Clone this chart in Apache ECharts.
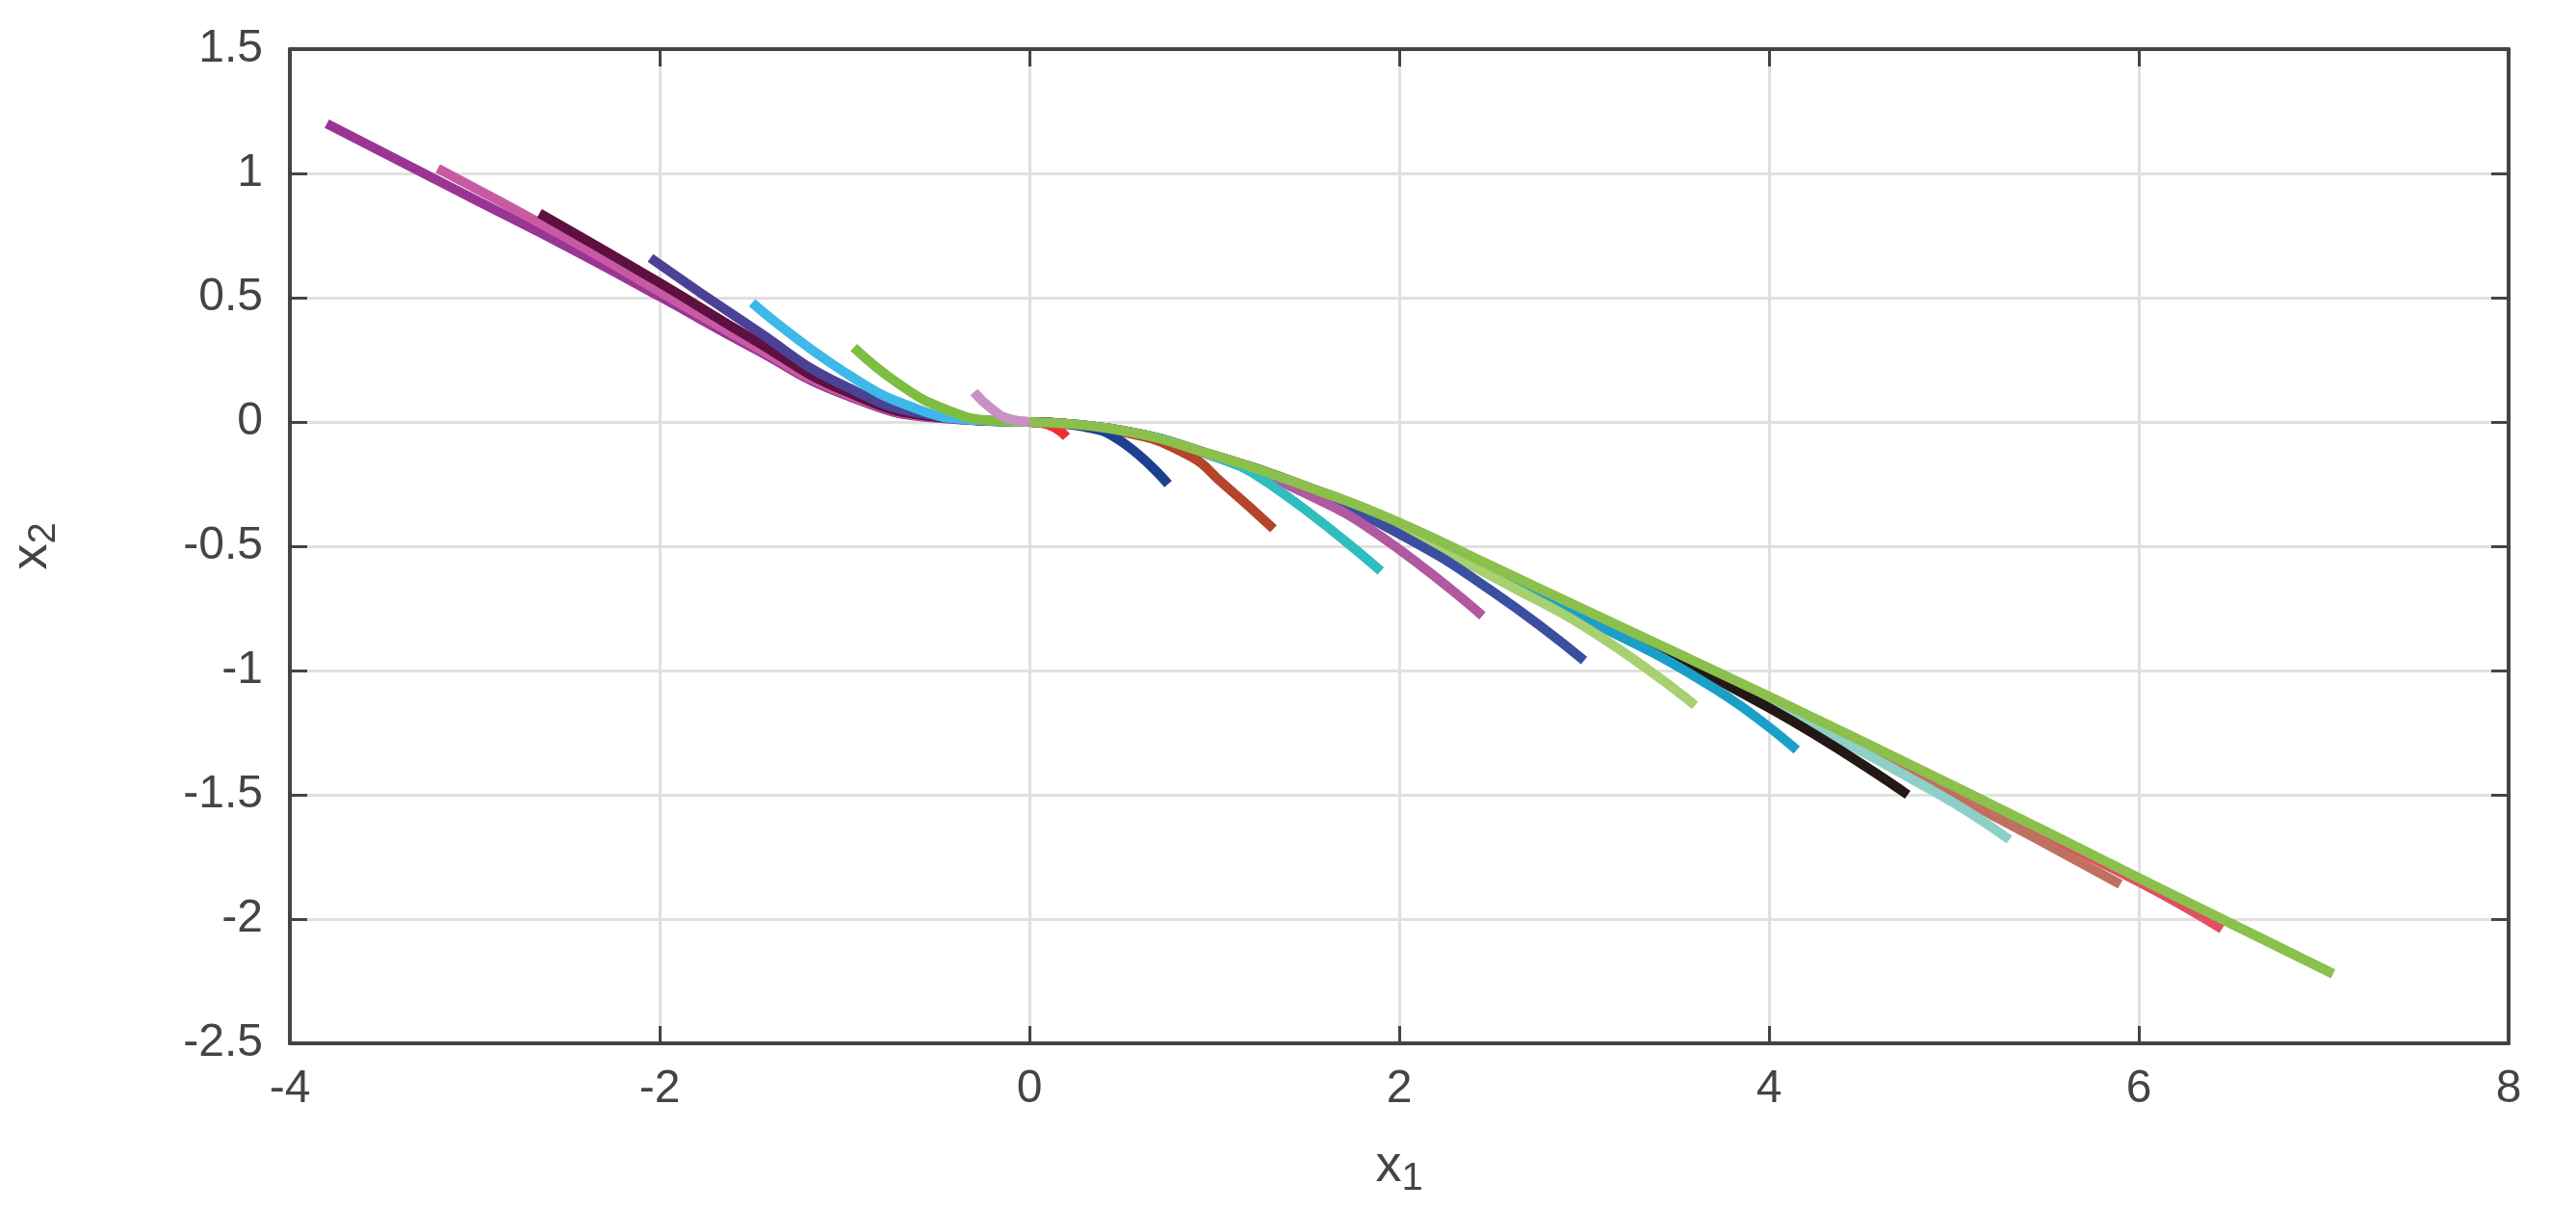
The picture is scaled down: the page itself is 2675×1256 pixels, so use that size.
<!DOCTYPE html>
<html>
<head>
<meta charset="utf-8">
<script src="https://cdn.jsdelivr.net/npm/echarts@6/dist/echarts.min.js"></script>
<style>html,body{margin:0;padding:0;background:#fff}#main{width:2675px;height:1256px}</style>
</head>
<body>
<div id="main"></div>
<script>
// trajectories, [x1, x2]
var trajPurple = [[-3.8,1.2],[-3.0,0.895],[-2.5,0.705],[-2,0.505],[-1.5,0.3],[-1,0.11],[-0.5,0.016],[0,0]];
var trajPink = [[-3.2,1.02],[-2.5,0.74],[-2,0.525],[-1.5,0.31],[-1,0.115],[-0.5,0.018],[0,0]];
var trajMaroon = [[-2.65,0.84],[-2,0.56],[-1.5,0.335],[-1,0.125],[-0.5,0.02],[0,0]];
var trajIndigo = [[-2.05,0.66],[-1.5,0.38],[-1,0.145],[-0.5,0.025],[0,0]];
var trajSky = [[-1.5,0.48],[-1,0.2],[-0.6,0.05],[-0.3,0.008],[0,0]];
var trajGreenL = [[-0.95,0.3],[-0.7,0.15],[-0.45,0.05],[-0.2,0.005],[0,0]];
var trajMauve = [[-0.3,0.12],[-0.2,0.05],[-0.1,0.01],[0,0]];

var trajRed = [[0,0],[0.1,-0.01],[0.2,-0.06]];
var trajNavy = [[0,0],[0.3,-0.02],[0.5,-0.08],[0.75,-0.25]];
var trajRust = [[0,0],[0.5,-0.04],[0.85,-0.13],[1.05,-0.25],[1.32,-0.43]];
var trajTeal = [[0,0],[0.5,-0.035],[1,-0.14],[1.3,-0.25],[1.9,-0.6]];
var trajMagenta = [[0,0],[0.5,-0.035],[1,-0.138],[1.5,-0.29],[1.9,-0.46],[2.45,-0.78]];
var trajBlue = [[0,0],[0.5,-0.035],[1,-0.137],[1.5,-0.275],[2,-0.45],[2.5,-0.68],[3.0,-0.96]];
var trajLime = [[0,0],[0.5,-0.035],[1,-0.136],[1.5,-0.27],[2,-0.435],[2.6,-0.66],[3.1,-0.87],[3.6,-1.14]];
var trajCyan = [[0,0],[0.5,-0.035],[1,-0.135],[1.5,-0.265],[2,-0.425],[3,-0.79],[3.7,-1.07],[4.15,-1.32]];
var trajBlack = [[0,0],[0.5,-0.035],[1,-0.135],[1.5,-0.262],[2,-0.42],[3,-0.775],[4,-1.15],[4.75,-1.5]];
var trajPale = [[0,0],[0.5,-0.035],[1,-0.135],[1.5,-0.261],[2,-0.415],[3,-0.77],[4,-1.135],[4.9,-1.49],[5.3,-1.68]];
var trajBrown = [[0,0],[0.5,-0.035],[1,-0.135],[1.5,-0.26],[2,-0.412],[3,-0.765],[4,-1.12],[5,-1.5],[5.9,-1.86]];
var trajRed2 = [[0,0],[0.5,-0.035],[1,-0.135],[1.5,-0.26],[2,-0.41],[3,-0.762],[4,-1.115],[5,-1.48],[6,-1.85],[6.45,-2.04]];
var trajGreen = [[0,0],[0.5,-0.035],[1,-0.135],[1.5,-0.26],[2,-0.405],[2.5,-0.58],[3,-0.755],[4,-1.105],[5,-1.465],[6,-1.835],[7.05,-2.22]];

var xTicks = [-4, -2, 0, 2, 4, 6, 8];
var yTicks = [-2.5, -2, -1.5, -1, -0.5, 0, 0.5, 1, 1.5];

var curves = [
  [trajPurple, '#9B3593'], [trajPink, '#C85AA4'], [trajMaroon, '#5E1040'],
  [trajIndigo, '#4B4296'], [trajSky, '#3DB8E8'], [trajGreenL, '#7DBE42'],
  [trajMauve, '#C890C4'],
  [trajGreen, '#8CC04C'], [trajRed2, '#E05060'], [trajBrown, '#C07060'],
  [trajPale, '#8ED0C8'], [trajBlack, '#231815'], [trajCyan, '#1AA0C8'],
  [trajLime, '#A8D070'], [trajBlue, '#3A4FA0'], [trajMagenta, '#B058A0'],
  [trajTeal, '#2FBDBD'], [trajRust, '#B5452A'], [trajNavy, '#1E3F8F'],
  [trajRed, '#EE3035'], [trajGreen, '#8CC04C']
];

var myChart = echarts.init(document.getElementById('main'));
var font = 'Liberation Sans, Arial, sans-serif';
var axisLine = { show: true, onZero: false, lineStyle: { color: '#444', width: 4 } };
var tick = { show: true, inside: true, length: 18, lineStyle: { color: '#444', width: 3 } };

function fmt(v) { return String(v); }

option = {
  animation: false,
  grid: { left: 301, right: 70, top: 51, bottom: 173, outerBoundsMode: 'none', containLabel: false },
  xAxis: [{
    type: 'value', min: -4, max: 8, interval: 2,
    axisLine: axisLine, axisTick: tick,
    axisLabel: { color: '#444', fontSize: 48, fontFamily: font, margin: 24, formatter: fmt },
    splitLine: { show: true, lineStyle: { color: '#e0e0e0', width: 3 } },
    name: '{a|x}{b|1}', nameLocation: 'middle', nameGap: 95,
    nameTextStyle: { rich: { a: { fontSize: 54, color: '#444', fontFamily: font }, b: { fontSize: 40, color: '#444', fontFamily: font, padding: [26, 0, 0, 0] } } }
  }, {
    type: 'value', min: -4, max: 8, interval: 2, position: 'top',
    axisLine: axisLine, axisTick: tick, axisLabel: { show: false }, splitLine: { show: false }
  }],
  yAxis: [{
    type: 'value', min: -2.5, max: 1.5, interval: 0.5,
    axisLine: axisLine, axisTick: tick,
    axisLabel: { color: '#444', fontSize: 48, fontFamily: font, margin: 28, formatter: fmt },
    splitLine: { show: true, lineStyle: { color: '#e0e0e0', width: 3 } },
    name: '{a|x}{b|2}', nameLocation: 'middle', nameGap: 235, nameRotate: 90,
    nameTextStyle: { rich: { a: { fontSize: 54, color: '#444', fontFamily: font }, b: { fontSize: 40, color: '#444', fontFamily: font, padding: [26, 0, 0, 0] } } }
  }, {
    type: 'value', min: -2.5, max: 1.5, interval: 0.5, position: 'right',
    axisLine: axisLine, axisTick: tick, axisLabel: { show: false }, splitLine: { show: false }
  }],
  series: curves.map(function (c) {
    return {
      type: 'line', data: c[0], smooth: 0.5, showSymbol: false,
      lineStyle: { color: c[1], width: 10, cap: 'butt' }
    };
  })
};
myChart.setOption(option);
</script>
</body>
</html>
